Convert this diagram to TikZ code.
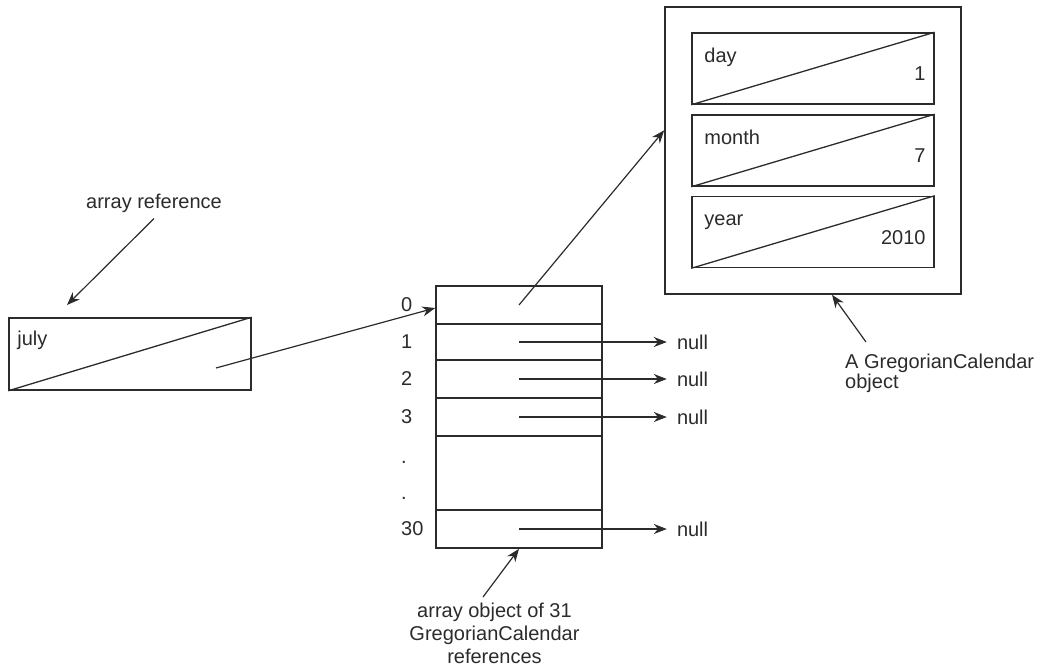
\documentclass[tikz,border=0pt]{standalone}
\usepackage{fontspec}
\setmainfont{Liberation Sans}
\usetikzlibrary{arrows.meta, calc, positioning}
\definecolor{ink}{HTML}{2B2B2B}

\begin{document}
\begin{tikzpicture}[x=1pt, y=-1pt, font=\fontsize{20}{23}\selectfont, text=ink,
    box/.style={draw=ink, line width=1.6pt, inner sep=0pt},
    slash/.style={draw=ink, line width=1.3pt},
    ptr/.style={draw=ink, line width=1.2pt, -{Stealth[length=13pt, width=10pt]}},
    lbl/.style={inner sep=0pt}]
    \useasboundingbox (0,0) rectangle (1045,669);

    % the reference variable
    \node[box, minimum width=242pt, minimum height=72pt] (july) at (130,354) {};
    \draw[slash] (july.south west) -- (july.north east);
    \node[lbl, anchor=base west] at ([xshift=9pt, yshift=-28pt]july.north west) {july};

    \node[lbl] (arrref) at (154,203) {array reference};
    \coordinate (reftip) at (67,305);
    \draw[ptr] ([yshift=-6pt]arrref.south) -- (reftip);

    % the array object, cells with their indices
    \foreach \i/\y/\h in {0/305/38, 1/342/36, 2/379/38, 3/417/38, 30/529/38}{
        \node[box, minimum width=166pt, minimum height=\h pt] (c\i) at (519,\y) {};
        \node[lbl, anchor=west] (i\i) at (401,\y) {\i};
    }
    \node[box, minimum width=166pt, minimum height=74pt] (cgap) at (519,473) {};
    \node[lbl, anchor=west] (dot1) at (401,462) {.};
    \node[lbl, anchor=west] (dot2) at (401,498) {.};

    \foreach \i in {1,2,3,30}{
        \node[lbl, right=74pt of c\i] (n\i) {null};
        \draw[ptr] (c\i.center) -- ([xshift=-10pt]n\i.west);
    }

    \draw[ptr] ([xshift=86pt, yshift=-14pt]july.center) -- ([yshift=-3pt]c0.west);

    \node[lbl, anchor=north, align=center] (arrlbl) at (494.5,603)
        {array object of 31\\GregorianCalendar\\references};
    \draw[ptr] ([xshift=-11.5pt, yshift=6pt]arrlbl.north) -- (c30.south);

    % the GregorianCalendar object and its fields
    \node[box, minimum width=296pt, minimum height=287pt] (obj) at (813,150.5) {};
    \foreach \f/\v/\y in {day/1/68.5, month/7/150.5, year/2010/232}{
        \node[box, minimum width=242pt, minimum height=71pt] (f\f) at (813,\y) {};
        \draw[slash] (f\f.south west) -- (f\f.north east);
        \node[lbl, anchor=base west] at ([xshift=13pt, yshift=-30pt]f\f.north west) {\f};
        \node[lbl, anchor=base east] at ([xshift=-9pt, yshift=24pt]f\f.south east) {\v};
    }

    \draw[ptr] (c0.center) -- ($(obj.north west)!0.43!(obj.south west)$);

    \node[lbl, anchor=north west, align=left, font=\fontsize{20}{20}\selectfont]
        (objlbl) at (845,354) {A GregorianCalendar\\object};
    \draw[ptr] ([xshift=21pt, yshift=12pt]objlbl.north west) -- ([xshift=19pt]obj.south);
\end{tikzpicture}
\end{document}
